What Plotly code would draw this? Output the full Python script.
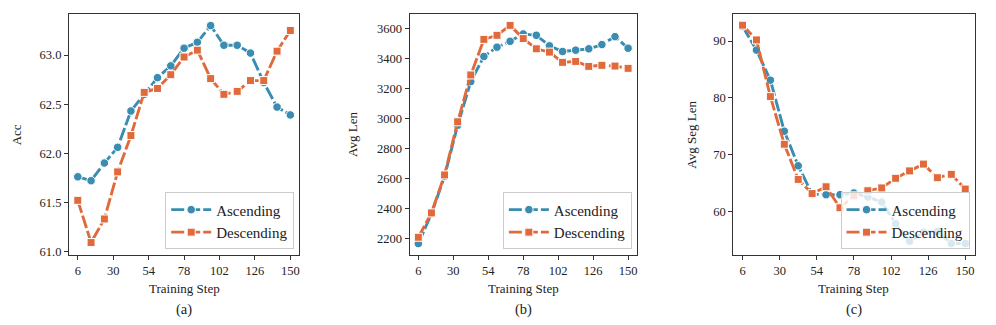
import plotly.graph_objects as go

steps = [6, 15, 24, 33, 42, 51, 60, 69, 78, 87, 96, 105, 114, 123, 132, 141, 150]
tick_steps = [6, 30, 54, 78, 102, 126, 150]

acc_asc = [61.76, 61.72, 61.90, 62.06, 62.43, 62.60, 62.77, 62.89, 63.07, 63.13, 63.30, 63.10, 63.10, 63.02, 62.72, 62.47, 62.39]
acc_desc = [61.52, 61.09, 61.33, 61.81, 62.18, 62.62, 62.66, 62.80, 62.98, 63.05, 62.76, 62.60, 62.63, 62.74, 62.74, 63.04, 63.25]

len_asc = [2167, 2365, 2615, 2955, 3246, 3413, 3475, 3514, 3563, 3554, 3484, 3446, 3455, 3464, 3492, 3545, 3468]
len_desc = [2209, 2371, 2624, 2978, 3290, 3527, 3554, 3620, 3532, 3464, 3442, 3374, 3380, 3347, 3354, 3349, 3334]

seg_asc = [92.6, 88.4, 83.1, 74.1, 68.0, 63.0, 62.9, 62.9, 63.2, 62.5, 61.6, 57.8, 54.7, 56.3, 56.4, 54.3, 54.3]
seg_desc = [92.8, 90.2, 80.2, 71.8, 65.6, 63.1, 64.3, 60.6, 62.7, 63.6, 64.1, 65.8, 67.1, 68.3, 65.9, 66.5, 63.9]

series_names = ["Ascending", "Descending"]
panel_titles = ["Acc", "Avg Len", "Avg Seg Len"]
panel_labels = ["(a)", "(b)", "(c)"]
x_title = "Training Step"

BLUE = "#3a8db0"
ORANGE = "#e06a3b"
FONT = "Liberation Serif"
W, H = 996, 325

# pixel layout of each panel: left, right, top, bottom
panels_px = [(69, 299.5, 14, 258), (410, 637.5, 14, 258), (734, 975.5, 14, 258)]
yranges = [[60.965, 63.42], [2092, 3697], [52.3, 94.8]]
ytickvals = [[61.0, 61.5, 62.0, 62.5, 63.0],
             [2200, 2400, 2600, 2800, 3000, 3200, 3400, 3600],
             [60, 70, 80, 90]]
ytickfmt = [".1f", "d", "d"]
ytitle_x = [16, 353, 692]
legend_px = [(294.5, 252.5), (632.5, 252.5), (970.5, 252.5)]

data = [(acc_asc, acc_desc), (len_asc, len_desc), (seg_asc, seg_desc)]

fig = go.Figure()
for i, (asc, desc) in enumerate(data):
    ax = "" if i == 0 else str(i + 1)
    lg = "legend" if i == 0 else f"legend{i+1}"
    for name, vals, col, sym in [(series_names[0], asc, BLUE, "circle"),
                                 (series_names[1], desc, ORANGE, "square")]:
        fig.add_trace(go.Scatter(
            x=steps, y=vals, name=name, mode="lines+markers",
            xaxis="x" + ax, yaxis="y" + ax, legend=lg,
            line=dict(color=col, width=2.9, dash="13px,3px"),
            marker=dict(symbol=sym, size=8.5 if sym == "circle" else 8, color=col,
                        line=dict(color="white", width=1)),
        ))

layout = dict(width=W, height=H, margin=dict(l=0, r=0, t=0, b=0),
              paper_bgcolor="white", plot_bgcolor="white", showlegend=True,
              font=dict(family=FONT, size=11, color="#222"))
annotations = []
for i, (l, r, t, b) in enumerate(panels_px):
    ax = "" if i == 0 else str(i + 1)
    axis_common = dict(showline=True, mirror=True, linecolor="#333", linewidth=1,
                       ticks="outside", ticklen=4, tickcolor="#333", tickwidth=1,
                       showgrid=False, zeroline=False,
                       tickfont=dict(family=FONT, size=12.5, color="#222"))
    layout["xaxis" + ax] = dict(domain=[l / W, r / W], anchor="y" + ax,
                                range=[0.0, 156.0], tickvals=tick_steps, **axis_common)
    layout["yaxis" + ax] = dict(domain=[1 - b / H, 1 - t / H], anchor="x" + ax,
                                range=yranges[i], tickvals=ytickvals[i],
                                tickformat=ytickfmt[i], **axis_common)
    cx = (l + r) / 2
    annotations.append(dict(text=x_title, x=cx / W, y=1 - 292 / H, xref="paper", yref="paper",
                            showarrow=False, xanchor="center", yanchor="middle",
                            font=dict(family=FONT, size=13, color="#222")))
    annotations.append(dict(text=panel_labels[i], x=cx / W, y=1 - 313 / H, xref="paper", yref="paper",
                            showarrow=False, xanchor="center", yanchor="middle",
                            font=dict(family=FONT, size=14.5, color="#222")))
    annotations.append(dict(text=panel_titles[i], x=ytitle_x[i] / W, y=1 - (t + b) / 2 / H,
                            xref="paper", yref="paper", textangle=-90,
                            showarrow=False, xanchor="center", yanchor="middle",
                            font=dict(family=FONT, size=13, color="#222")))
    lx, ly = legend_px[i]
    lg = "legend" if i == 0 else f"legend{i+1}"
    layout[lg] = dict(x=lx / W, y=1 - ly / H, xanchor="right", yanchor="bottom",
                      bgcolor="rgba(255,255,255,0.8)", bordercolor="#cccccc", borderwidth=1,
                      font=dict(family=FONT, size=15, color="#222"),
                      itemwidth=40, tracegroupgap=2)
layout["annotations"] = annotations
fig.update_layout(**layout)
fig.write_html("out.html")
